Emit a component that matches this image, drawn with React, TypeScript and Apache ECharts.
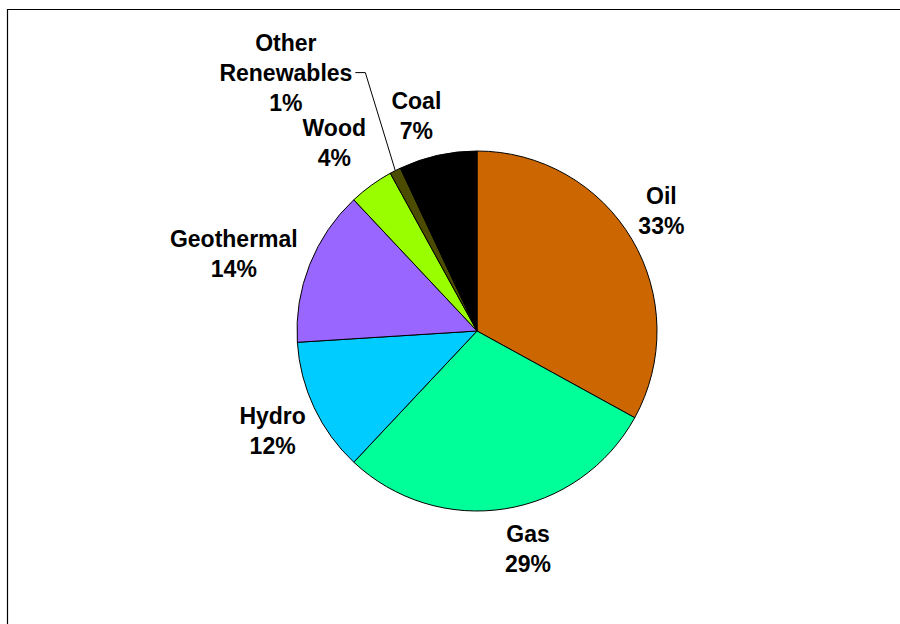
import React, { useEffect, useRef } from "react";
import * as echarts from "echarts";

// Energy sources, clockwise from 12 o'clock
const categories = ["Oil", "Gas", "Hydro", "Geothermal", "Wood", "Other Renewables", "Coal"];
const shares = [33, 29, 12, 14, 4, 1, 7];
const colors = ["#CC6600", "#00FF99", "#00CCFF", "#9966FF", "#99FF00", "#4C4C00", "#000000"];

// How far each label sits beyond the rim, and a small fine-tune offset
const labelReach: Record<string, number> = {
  Oil: 40, Gas: 44, Hydro: 47, Geothermal: 74, Wood: 56, Coal: 43,
};
const labelNudge: Record<string, [number, number]> = {
  Oil: [-5, -8], Gas: [16, -3], Hydro: [1, 3], Geothermal: [-7, 17], Wood: [-4, 3], Coal: [-12, 3],
};
const leaderShift = 20;

export default function App() {
  const ref = useRef<HTMLDivElement>(null);

  useEffect(() => {
    if (!ref.current) return;
    const chart = echarts.init(ref.current, undefined, { renderer: "svg" });

    const data = categories.map((name, i) => {
      const isLeader = name === "Other Renewables";
      return {
        name,
        value: shares[i],
        itemStyle: { color: colors[i] },
        label: isLeader
          ? { distanceToLabelLine: 3 }
          : { distanceToLabelLine: 0 },
        labelLine: isLeader
          ? { show: true, length: 110, length2: 10, lineStyle: { color: "#000", width: 1 } }
          : { show: false, length: labelReach[name], length2: 0 },
      };
    });

    chart.setOption({
      animation: false,
      backgroundColor: "#ffffff",
      graphic: [
        {
          type: "rect",
          shape: { x: 7.5, y: 9.5, width: 1200, height: 1200 },
          style: { fill: "none", stroke: "#000", lineWidth: 1.2 },
          silent: true,
        },
      ],
      series: [
        {
          type: "pie",
          center: [477, 331],
          radius: 180,
          startAngle: 90,
          clockwise: true,
          avoidLabelOverlap: false,
          itemStyle: { borderColor: "#000", borderWidth: 1 },
          emphasis: { disabled: true },
          label: {
            show: true,
            position: "outside",
            formatter: (p: any) =>
              String(p.name)
                .split(" ")
                .concat([`${p.value}%`])
                .map((s: string) => `{t|${s}}`)
                .join("\n"),
            rich: {
              t: {
                fontFamily: "'Liberation Sans', Arial, sans-serif",
                fontSize: 23,
                fontWeight: "bold",
                color: "#000",
                lineHeight: 30,
                align: "center",
              },
            },
          },
          labelLayout: (p: any) => {
            const name = categories[p.dataIndex];
            if (name === "Other Renewables") {
              const pts = p.labelLinePoints;
              if (!pts) return {};
              return {
                dx: leaderShift,
                labelLinePoints: [
                  pts[0],
                  [pts[1][0] + leaderShift, pts[1][1]],
                  [pts[2][0] + leaderShift, pts[2][1]],
                ],
              };
            }
            const n = labelNudge[name] || [0, 0];
            return { align: "center", verticalAlign: "middle", dx: n[0], dy: n[1] };
          },
          data,
        },
      ],
    });

    return () => chart.dispose();
  }, []);

  return (
    <div
      ref={ref}
      style={{ position: "fixed", left: 0, top: 0, width: 900, height: 624, background: "#fff" }}
    />
  );
}
